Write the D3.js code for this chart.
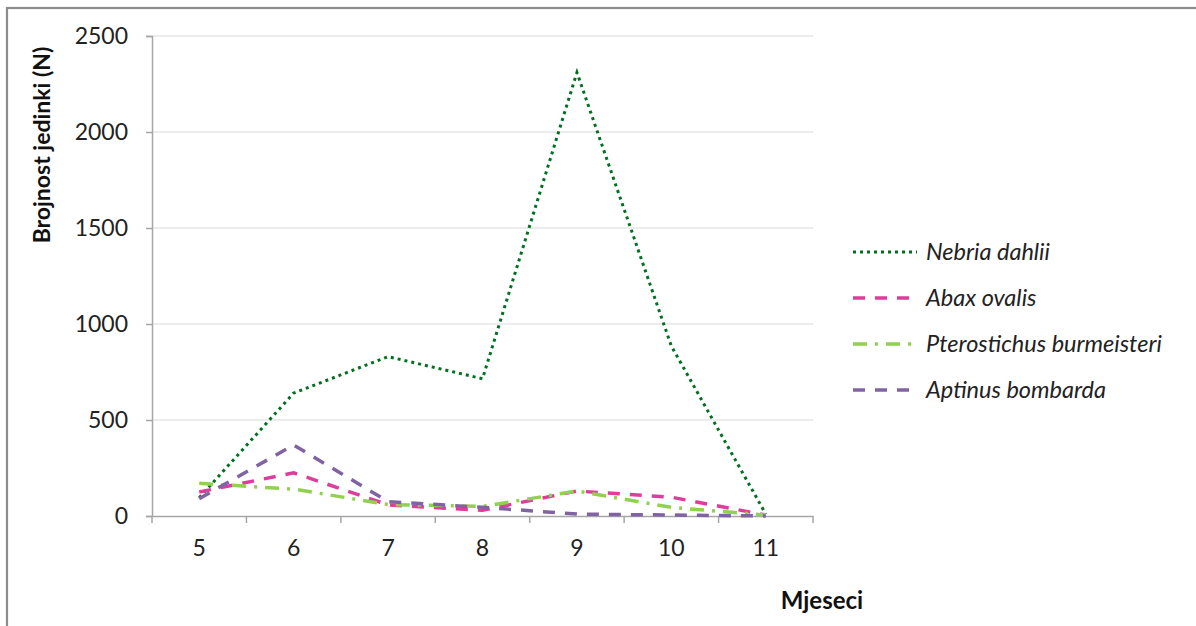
<!DOCTYPE html>
<html><head><meta charset="utf-8">
<script src="https://cdn.jsdelivr.net/npm/d3@7"></script>
<style>body{margin:0;background:#fff}svg{display:block}</style>
</head><body>
<svg id="c" width="1196" height="626"></svg>
<script>
const months = ["5","6","7","8","9","10","11"];
const nebria = [95, 640, 830, 715, 2310, 885, 10];
const abax = [125, 225, 58, 30, 130, 98, 5];
const ptero = [170, 140, 60, 50, 130, 45, 5];
const aptinus = [90, 370, 75, 45, 10, 5, 0];
const yTicks = [0, 500, 1000, 1500, 2000, 2500];
const seriesNames = ["Nebria dahlii", "Abax ovalis", "Pterostichus burmeisteri", "Aptinus bombarda"];
const seriesValues = [nebria, abax, ptero, aptinus];
const colors = ["#007020", "#de3d9b", "#92d050", "#8064a2"];
const dashes = ["3 4", "12 10", "14 8 3 8", "12 10"];

const svg = d3.select("#c");
const font = "Lato, 'Liberation Sans', sans-serif";
svg.append("rect").attr("x",7).attr("y",8).attr("width",1300).attr("height",700)
  .attr("fill","none").attr("stroke","#8c8c8c").attr("stroke-width",2.2);

const L=152, R=813, T=36, B=516;
const x = d3.scaleBand().domain(months).range([L,R]);
const y = d3.scaleLinear().domain([0,2500]).range([B,T]);

// gridlines
svg.append("g").selectAll("line").data(yTicks.filter(d=>d>0)).join("line")
  .attr("x1",L).attr("x2",R).attr("y1",d=>y(d)).attr("y2",d=>y(d))
  .attr("stroke","#d9d9d9").attr("stroke-width",1.2);

// y axis
const ya = svg.append("g").attr("transform",`translate(${L},0)`)
  .call(d3.axisLeft(y).tickValues(yTicks).tickFormat(d3.format("d")).tickSize(6).tickPadding(18));
ya.select(".domain").attr("stroke","#a6a6a6").attr("stroke-width",1.5);
ya.selectAll(".tick line").attr("stroke","#a6a6a6").attr("stroke-width",1.5);
ya.selectAll("text").attr("font-family",font).attr("font-size",23).attr("fill","#222");

// x axis
const xa = svg.append("g").attr("transform",`translate(0,${B})`)
  .call(d3.axisBottom(x).tickSize(0).tickPadding(24));
xa.select(".domain").attr("stroke","#a6a6a6").attr("stroke-width",1.5);
xa.selectAll("text").attr("font-family",font).attr("font-size",23).attr("fill","#222");
const bounds = months.map(m=>x(m)).concat([R]);
svg.append("g").selectAll("line").data(bounds).join("line")
  .attr("x1",d=>d).attr("x2",d=>d).attr("y1",B).attr("y2",B+7)
  .attr("stroke","#a6a6a6").attr("stroke-width",1.5);

// lines
const line = d3.line().x((d,i)=>x(months[i])+x.bandwidth()/2).y(d=>y(d));
[0,1,2,3].forEach(i=>{
  svg.append("path").attr("d",line(seriesValues[i])).attr("fill","none")
    .attr("stroke",colors[i]).attr("stroke-width",i===0?3:3.5)
    .attr("stroke-dasharray",dashes[i]);
});

// axis titles
svg.append("text").attr("transform","translate(50,145) rotate(-90)")
  .attr("text-anchor","middle").attr("font-family",font).attr("font-weight","bold")
  .attr("font-size",23).attr("fill","#111").text("Brojnost jedinki (N)");
svg.append("text").attr("x",822).attr("y",609).attr("text-anchor","middle")
  .attr("font-family",font).attr("font-weight","bold").attr("font-size",24)
  .attr("fill","#111").text("Mjeseci");

// legend
const lg = svg.append("g");
const ly = [252, 298, 344, 390];
seriesNames.forEach((n,i)=>{
  lg.append("line").attr("x1",853).attr("x2",917).attr("y1",ly[i]).attr("y2",ly[i])
    .attr("stroke",colors[i]).attr("stroke-width",i===0?3:3.5).attr("stroke-dasharray",dashes[i]);
  lg.append("text").attr("x",926).attr("y",ly[i]+8).attr("font-family",font)
    .attr("font-style","italic").attr("font-size",23.5).attr("fill","#222").text(n);
});
</script>
</body></html>
